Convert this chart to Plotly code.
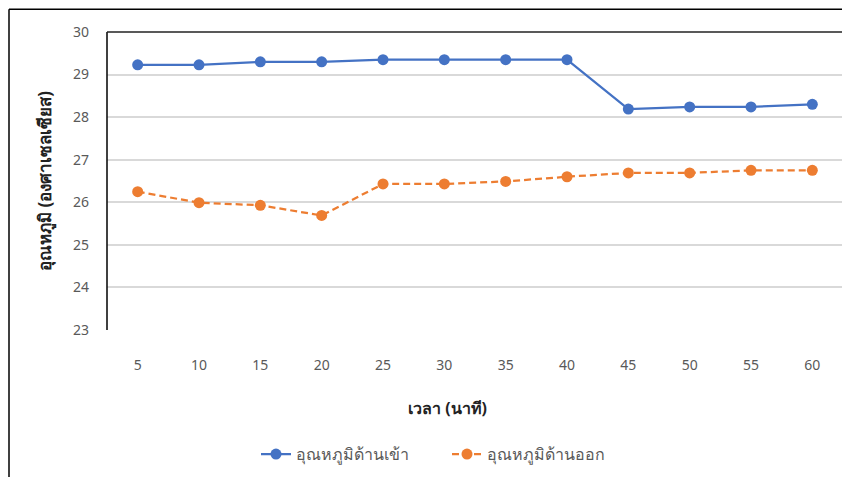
import plotly.graph_objects as go

minutes = ["5", "10", "15", "20", "25", "30", "35", "40", "45", "50", "55", "60"]
temp_in = [29.23, 29.23, 29.3, 29.3, 29.35, 29.35, 29.35, 29.35, 28.19, 28.24, 28.24, 28.3]
temp_out = [26.25, 25.99, 25.93, 25.69, 26.43, 26.43, 26.49, 26.6, 26.69, 26.69, 26.75, 26.75]
series_names = ["อุณหภูมิด้านเข้า", "อุณหภูมิด้านออก"]
y_ticks = [23, 24, 25, 26, 27, 28, 29, 30]
x_title = "เวลา (นาที)"
y_title = "อุณหภูมิ (องศาเซลเซียส)"

fig = go.Figure()
fig.add_trace(go.Scatter(x=minutes, y=temp_in, name=series_names[0], mode="lines+markers",
                         line=dict(color="#4472C4", width=2.25),
                         marker=dict(color="#4472C4", size=11)))
fig.add_trace(go.Scatter(x=minutes, y=temp_out, name=series_names[1], mode="lines+markers",
                         line=dict(color="#ED7D31", width=2.25, dash="7px,4px"),
                         marker=dict(color="#ED7D31", size=11)))

# page body has an 8px margin, so the figure origin is at screen (8, 8);
# size the figure so the page does not overflow the 850x478 window
OFF = 8
W, H = 850 - OFF, 478 - OFF
L = 107 - OFF
T = 32 - OFF
R = W - (843 - OFF)
B = H - (332 - OFF)
pw, ph = W - L - R, H - T - B

def px_x(x):
    return (x - OFF - L) / pw

def px_y(y):
    return (H - B - (y - OFF)) / ph

shapes = [
    dict(type="line", xref="paper", yref="paper", x0=0, x1=0, y0=0, y1=1, line=dict(color="#000000", width=1.5)),
    dict(type="line", xref="paper", yref="paper", x0=0, x1=1, y0=1, y1=1, line=dict(color="#222222", width=1.5)),
    dict(type="line", xref="paper", yref="paper", x0=1, x1=1, y0=0, y1=1, line=dict(color="#444444", width=1.5)),
    dict(type="line", xref="paper", yref="paper", x0=px_x(9), x1=px_x(852), y0=px_y(9), y1=px_y(9), line=dict(color="#000000", width=1.5)),
    dict(type="line", xref="paper", yref="paper", x0=px_x(9), x1=px_x(9), y0=px_y(9), y1=px_y(480), line=dict(color="#000000", width=1.5)),
]

annotations = [
    dict(text="<b>" + x_title + "</b>", xref="paper", yref="paper", x=px_x(447), y=px_y(411),
         xanchor="center", yanchor="middle", showarrow=False, font=dict(size=16, color="#222222")),
    dict(text="<b>" + y_title + "</b>", xref="paper", yref="paper", x=px_x(45), y=px_y(182),
         xanchor="center", yanchor="middle", showarrow=False, textangle=-90,
         font=dict(size=17, color="#222222")),
]

fig.update_layout(
    width=W, height=H,
    margin=dict(l=L, r=R, t=T, b=B),
    paper_bgcolor="white", plot_bgcolor="white",
    font=dict(family="Noto Sans, DejaVu Sans, sans-serif", size=13, color="#595959"),
    xaxis=dict(type="category", range=[-0.5, len(minutes) - 0.5], showgrid=False, showline=False, zeroline=False,
               ticks="", ticklabelstandoff=25, tickfont=dict(size=14, color="#595959")),
    yaxis=dict(range=[23, 30], tickvals=y_ticks, showgrid=True, gridcolor="#D9D9D9", gridwidth=1.5,
               zeroline=False, showline=False, ticks="", ticklabelstandoff=17,
               tickfont=dict(size=14, color="#595959")),
    legend=dict(orientation="h", x=px_x(256), xanchor="left", y=px_y(457), yanchor="middle",
                entrywidth=146, font=dict(size=16, color="#595959")),
    annotations=annotations,
    shapes=shapes,
)

fig.write_html("out.html")
